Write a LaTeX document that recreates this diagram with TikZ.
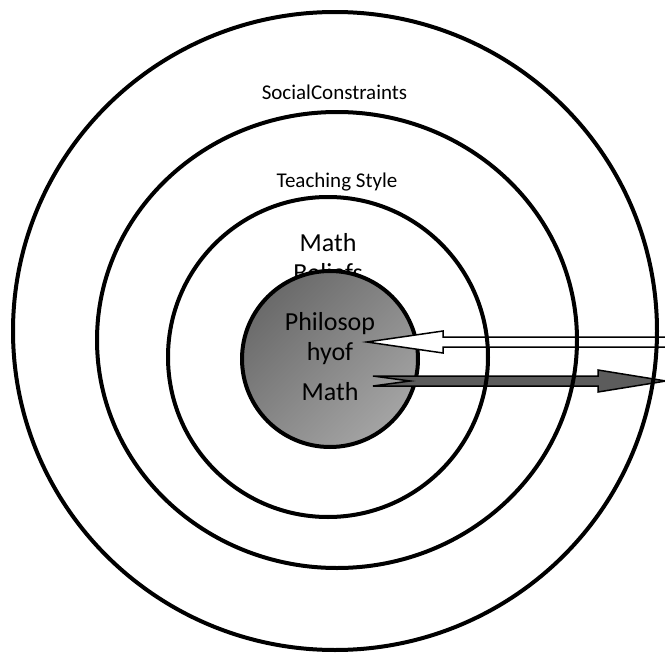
\documentclass[tikz,border=0pt]{standalone}
\usepackage{fontspec}
\setmainfont{Carlito}
\definecolor{coredark}{HTML}{6A6A6A}
\definecolor{corelight}{HTML}{A4A4A4}
\definecolor{arrowdark}{HTML}{5C5C5C}
\begin{document}
\begin{tikzpicture}[x=1pt,y=-1pt,
  ring/.style={draw=black,line width=4pt},
  outlbl/.style={anchor=base,inner sep=0pt,font=\fontsize{21}{25}\selectfont},
  inlbl/.style={anchor=base,inner sep=0pt,font=\fontsize{26}{30}\selectfont},
  blockarrow/.style={draw=black,line width=1.5pt,line join=miter}]
\useasboundingbox (0,0) rectangle (665,653);
\clip (0,0) rectangle (665,653);
% labels of the rings
\node[outlbl] (soc) at (334.5,99) {SocialConstraints};
\node[outlbl] (teach) at (337,187) {Teaching Style};
\node[inlbl] (mb1) at (328,251) {Math};
\node[inlbl] (mb2) at (328,281) {Beliefs};
% core disc
\node[circle,draw=black,line width=4pt,minimum size=176pt,inner sep=0pt,
      top color=coredark,bottom color=corelight,shading angle=45] (core) at (330,359) {};
\node[inlbl] (ph1) at (330,330) {Philosop};
\node[inlbl] (ph2) at (330,360) {hyof};
\node[inlbl] (ph3) at (330,400) {Math};
% block arrows
\draw[blockarrow,fill=white] (367,342) -- (443,331) -- (443,337) -- (700,337)
  -- (700,347) -- (443,347) -- (443,353) -- cycle;
\draw[blockarrow,fill=arrowdark] (373,376) -- (598,376) -- (598,370) -- (666,381)
  -- (598,392) -- (598,386) -- (373,386) -- (410,381) -- cycle;
% rings
\draw[ring] (335,331) ellipse [x radius=322,y radius=319];
\draw[ring] (337,340) ellipse [x radius=240,y radius=228];
\draw[ring] (328,357) ellipse [x radius=160,y radius=160];
\end{tikzpicture}
\end{document}
